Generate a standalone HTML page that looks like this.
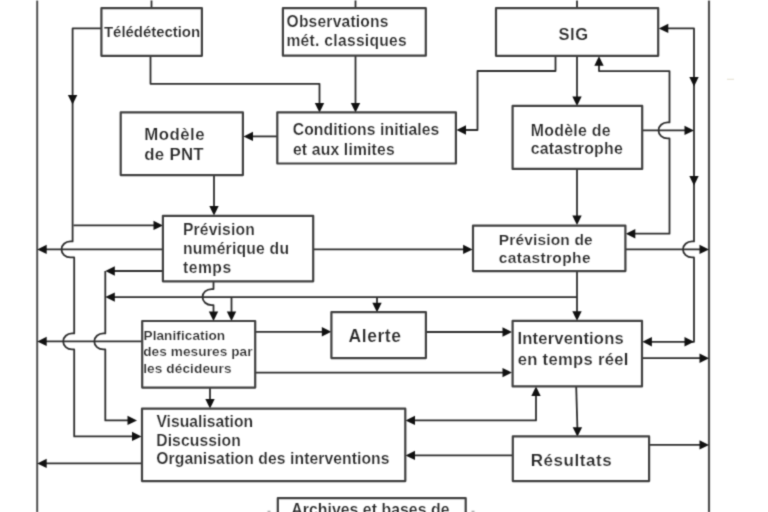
<!DOCTYPE html>
<html><head><meta charset="utf-8"><style>
html,body{margin:0;padding:0;background:#fff;}
svg{display:block;}
text{font-family:"Liberation Sans",sans-serif;font-weight:bold;fill:#2a2a2a;stroke:#fff;stroke-width:0.2;}
</style></head><body>
<svg width="768" height="512" viewBox="0 0 768 512">
<defs><filter id="bl" x="0" y="0" width="768" height="512" filterUnits="userSpaceOnUse" color-interpolation-filters="sRGB"><feConvolveMatrix order="3" kernelMatrix="0.0276 0.111 0.0276 0.111 0.4456 0.111 0.0276 0.111 0.0276" edgeMode="none"/></filter></defs>
<g filter="url(#bl)"><rect width="768" height="512" fill="#fff"/>
<g transform="translate(0,0.4)" stroke-linejoin="round"><path d="M37.2,0 V512" fill="none" stroke="#505050" stroke-width="2.0"/>
<path d="M709,0 V512" fill="none" stroke="#505050" stroke-width="2.2"/>
<path d="M151.5,0 V8" fill="none" stroke="#2e2e2e" stroke-width="1.8"/>
<path d="M355.5,0 V8" fill="none" stroke="#2e2e2e" stroke-width="1.8"/>
<path d="M577,0 V7" fill="none" stroke="#2e2e2e" stroke-width="1.8"/>
<path d="M101.5,28 H72.6 V241 H70.3 A8.8,8 0 0 0 70.3,257 H74.2 V333.0 H72 A8.8,8 0 0 0 72,349.0 H74.2 V436 H134" fill="none" stroke="#2e2e2e" stroke-width="1.8"/>
<polygon points="72.6,104.0 67.9,94.5 77.3,94.5" fill="#111"/>
<polygon points="141.5,436.0 132.0,431.3 132.0,440.7" fill="#111"/>
<path d="M150.5,55 V83.4 H319.5 V104" fill="none" stroke="#2e2e2e" stroke-width="1.8"/>
<polygon points="319.5,112.0 314.8,102.5 324.2,102.5" fill="#111"/>
<path d="M355.5,55.5 V104" fill="none" stroke="#2e2e2e" stroke-width="1.8"/>
<polygon points="355.5,112.0 350.8,102.5 360.2,102.5" fill="#111"/>
<path d="M277,136 H251" fill="none" stroke="#2e2e2e" stroke-width="1.8"/>
<polygon points="243.5,136.0 253.0,131.3 253.0,140.7" fill="#111"/>
<path d="M555.5,55.5 V70.6 H477.5 V129.6 H464" fill="none" stroke="#2e2e2e" stroke-width="1.8"/>
<polygon points="456.5,129.6 466.0,124.9 466.0,134.3" fill="#111"/>
<path d="M577,55.5 V98" fill="none" stroke="#2e2e2e" stroke-width="1.8"/>
<polygon points="577.0,105.5 572.3,96.0 581.7,96.0" fill="#111"/>
<path d="M667,28 H694 V241 H692 A9,8 0 0 0 692,257 H694 V341.4 H650" fill="none" stroke="#2e2e2e" stroke-width="1.8"/>
<polygon points="642.4,341.4 651.9,336.7 651.9,346.1" fill="#111"/>
<polygon points="658.8,28.0 668.3,23.3 668.3,32.7" fill="#111"/>
<polygon points="694.0,86.0 689.3,76.5 698.7,76.5" fill="#111"/>
<polygon points="694.0,185.0 689.3,175.5 698.7,175.5" fill="#111"/>
<polygon points="694.0,341.4 684.5,336.7 684.5,346.1" fill="#111"/>
<path d="M599,63 V70.7 H669.5 V122 H667.5 A9,8 0 0 0 667.5,138 H669.5 V233.3 H633" fill="none" stroke="#2e2e2e" stroke-width="1.8"/>
<polygon points="599.0,55.8 594.3,65.3 603.7,65.3" fill="#111"/>
<polygon points="625.8,233.3 635.3,228.6 635.3,238.0" fill="#111"/>
<path d="M642.3,130 H686" fill="none" stroke="#2e2e2e" stroke-width="1.8"/>
<polygon points="694.0,130.0 684.5,125.3 684.5,134.7" fill="#111"/>
<path d="M577,168.5 V217" fill="none" stroke="#2e2e2e" stroke-width="1.8"/>
<polygon points="577.0,224.7 572.3,215.2 581.7,215.2" fill="#111"/>
<path d="M214,175 V207" fill="none" stroke="#2e2e2e" stroke-width="1.8"/>
<polygon points="214.0,215.0 209.3,205.5 218.7,205.5" fill="#111"/>
<path d="M73.5,225 H155" fill="none" stroke="#2e2e2e" stroke-width="1.8"/>
<polygon points="163.0,225.0 153.5,220.3 153.5,229.7" fill="#111"/>
<path d="M163,249 H44" fill="none" stroke="#2e2e2e" stroke-width="1.8"/>
<polygon points="37.2,249.0 46.7,244.3 46.7,253.7" fill="#111"/>
<path d="M163,270.6 H113" fill="none" stroke="#2e2e2e" stroke-width="1.8"/>
<polygon points="105.3,270.6 114.8,265.9 114.8,275.3" fill="#111"/>
<path d="M105.3,270.6 V333.0 H103.3 A9,8 0 0 0 103.3,349.0 H105.3 V420 H130" fill="none" stroke="#2e2e2e" stroke-width="1.8"/>
<polygon points="137.0,420.0 127.5,415.3 127.5,424.7" fill="#111"/>
<path d="M313.3,249 H465" fill="none" stroke="#2e2e2e" stroke-width="1.8"/>
<polygon points="472.6,249.0 463.1,244.3 463.1,253.7" fill="#111"/>
<path d="M213.5,280.8 V288.7 H211.5 A9,8 0 0 0 211.5,304.7 H213.5 V312" fill="none" stroke="#2e2e2e" stroke-width="1.8"/>
<polygon points="213.5,320.5 208.8,311.0 218.2,311.0" fill="#111"/>
<path d="M577,296.7 H113" fill="none" stroke="#2e2e2e" stroke-width="1.8"/>
<polygon points="105.3,296.7 114.8,292.0 114.8,301.4" fill="#111"/>
<path d="M231.5,296.7 V312" fill="none" stroke="#2e2e2e" stroke-width="1.8"/>
<polygon points="231.5,320.5 226.8,311.0 236.2,311.0" fill="#111"/>
<path d="M377,296.7 V304" fill="none" stroke="#2e2e2e" stroke-width="1.8"/>
<polygon points="377.0,311.8 372.3,302.3 381.7,302.3" fill="#111"/>
<path d="M577,270.3 V312" fill="none" stroke="#2e2e2e" stroke-width="1.8"/>
<polygon points="577.0,320.3 572.3,310.8 581.7,310.8" fill="#111"/>
<path d="M625.5,249 H701" fill="none" stroke="#2e2e2e" stroke-width="1.8"/>
<polygon points="709.0,249.0 699.5,244.3 699.5,253.7" fill="#111"/>
<path d="M141.8,341.0 H44" fill="none" stroke="#2e2e2e" stroke-width="1.8"/>
<polygon points="37.2,341.0 46.7,336.3 46.7,345.7" fill="#111"/>
<path d="M254.8,331.4 H323" fill="none" stroke="#2e2e2e" stroke-width="1.8"/>
<polygon points="331.3,331.4 321.8,326.7 321.8,336.1" fill="#111"/>
<path d="M426.3,331.6 H504" fill="none" stroke="#2e2e2e" stroke-width="1.8"/>
<polygon points="512.0,331.6 502.5,326.9 502.5,336.3" fill="#111"/>
<path d="M254.8,372.2 H504" fill="none" stroke="#2e2e2e" stroke-width="1.8"/>
<polygon points="512.0,372.2 502.5,367.5 502.5,376.9" fill="#111"/>
<path d="M210,387 V400" fill="none" stroke="#2e2e2e" stroke-width="1.8"/>
<polygon points="210.0,408.2 205.3,398.7 214.7,398.7" fill="#111"/>
<path d="M642.5,357.8 H701" fill="none" stroke="#2e2e2e" stroke-width="1.8"/>
<polygon points="709.0,357.8 699.5,353.1 699.5,362.5" fill="#111"/>
<path d="M576.2,386 L577.4,428" fill="none" stroke="#2e2e2e" stroke-width="1.8"/>
<polygon points="577.4,436.4 572.7,426.9 582.1,426.9" fill="#111"/>
<path d="M536,394 V420 H413" fill="none" stroke="#2e2e2e" stroke-width="1.8"/>
<polygon points="536.0,386.0 531.3,395.5 540.7,395.5" fill="#111"/>
<polygon points="405.5,420.0 415.0,415.3 415.0,424.7" fill="#111"/>
<path d="M512,455 H413" fill="none" stroke="#2e2e2e" stroke-width="1.8"/>
<polygon points="405.5,455.0 415.0,450.3 415.0,459.7" fill="#111"/>
<path d="M649.6,444.5 H701" fill="none" stroke="#2e2e2e" stroke-width="1.8"/>
<polygon points="709.0,444.5 699.5,439.8 699.5,449.2" fill="#111"/>
<path d="M142,463 H44" fill="none" stroke="#2e2e2e" stroke-width="1.8"/>
<polygon points="37.2,463.0 46.7,458.3 46.7,467.7" fill="#111"/>
<rect x="101.4" y="7.8" width="100.5" height="47.6" fill="none" stroke="#404040" stroke-width="2.2"/>
<rect x="282.9" y="7.8" width="142.9" height="47.5" fill="none" stroke="#404040" stroke-width="2.2"/>
<rect x="496" y="7.8" width="162.2" height="47.6" fill="none" stroke="#404040" stroke-width="2.2"/>
<rect x="120.7" y="112" width="122.2" height="62.7" fill="none" stroke="#404040" stroke-width="2.2"/>
<rect x="277.3" y="111.9" width="178.6" height="51.2" fill="none" stroke="#404040" stroke-width="2.2"/>
<rect x="512.6" y="105.5" width="129.6" height="63.0" fill="none" stroke="#404040" stroke-width="2.2"/>
<rect x="162.9" y="215.4" width="150.3" height="65.5" fill="none" stroke="#404040" stroke-width="2.2"/>
<rect x="473" y="225.2" width="152.4" height="45.5" fill="none" stroke="#404040" stroke-width="2.2"/>
<rect x="142.2" y="320.6" width="113.0" height="66.6" fill="none" stroke="#404040" stroke-width="2.2"/>
<rect x="331.4" y="311.8" width="94.5" height="45.9" fill="none" stroke="#404040" stroke-width="2.2"/>
<rect x="512.6" y="320.5" width="129.4" height="65.5" fill="none" stroke="#404040" stroke-width="2.2"/>
<rect x="142" y="408.3" width="263.3" height="72.4" fill="none" stroke="#404040" stroke-width="2.2"/>
<rect x="512.8" y="436" width="136.3" height="44.7" fill="none" stroke="#404040" stroke-width="2.2"/>
<rect x="277.8" y="497.8" width="187.9" height="32.2" fill="none" stroke="#404040" stroke-width="2.2"/>
<rect x="267.5" y="510.3" width="3" height="2" fill="#aaa"/>
<rect x="471.5" y="510.3" width="3" height="2" fill="#aaa"/>
<rect x="727" y="78.3" width="7" height="1.2" fill="#e8e4d6"/></g>
<text x="103.99" y="37" font-size="15.0" textLength="96.07" lengthAdjust="spacing">Télédétection</text>
<text x="286.55" y="27.4" font-size="15.6" textLength="101.89" lengthAdjust="spacing">Observations</text>
<text x="286.44" y="46.0" font-size="15.6" textLength="120.34" lengthAdjust="spacing">mét. classiques</text>
<text x="558.44" y="40.0" font-size="16.5" textLength="29.63" lengthAdjust="spacing">SIG</text>
<text x="144.27" y="140" font-size="16.8" textLength="60.32" lengthAdjust="spacing">Modèle</text>
<text x="144.26" y="160.1" font-size="16.8" textLength="59.31" lengthAdjust="spacing">de PNT</text>
<text x="292.74" y="135.4" font-size="15.7" textLength="146.51" lengthAdjust="spacing">Conditions initiales</text>
<text x="292.89" y="154.6" font-size="15.7" textLength="101.76" lengthAdjust="spacing">et aux limites</text>
<text x="530.83" y="135.6" font-size="15.9" textLength="79.74" lengthAdjust="spacing">Modèle de</text>
<text x="530.64" y="153.7" font-size="15.9" textLength="92.11" lengthAdjust="spacing">catastrophe</text>
<text x="182.97" y="235.1" font-size="15.7" textLength="71.80" lengthAdjust="spacing">Prévision</text>
<text x="182.91" y="253.5" font-size="15.7" textLength="106.10" lengthAdjust="spacing">numérique du</text>
<text x="183.06" y="272.7" font-size="15.7" textLength="48.10" lengthAdjust="spacing">temps</text>
<text x="498.76" y="245.3" font-size="15.5" textLength="93.90" lengthAdjust="spacing">Prévision de</text>
<text x="498.84" y="263.1" font-size="15.5" textLength="91.67" lengthAdjust="spacing">catastrophe</text>
<text x="143.51" y="339.8" font-size="13.6" textLength="81.66" lengthAdjust="spacing">Planification</text>
<text x="143.23" y="356" font-size="13.6" textLength="109.27" lengthAdjust="spacing">des mesures par</text>
<text x="143.19" y="372.5" font-size="13.6" textLength="88.25" lengthAdjust="spacing">les décideurs</text>
<text x="348.49" y="341.6" font-size="17.5" textLength="52.46" lengthAdjust="spacing">Alerte</text>
<text x="517.52" y="344.0" font-size="16.6" textLength="106.18" lengthAdjust="spacing">Interventions</text>
<text x="517.65" y="364.8" font-size="16.6" textLength="110.80" lengthAdjust="spacing">en temps réel</text>
<text x="156.40" y="426.6" font-size="15.7" textLength="96.80" lengthAdjust="spacing">Visualisation</text>
<text x="156.21" y="445.6" font-size="15.7" textLength="84.64" lengthAdjust="spacing">Discussion</text>
<text x="156.27" y="464.4" font-size="15.7" textLength="233.24" lengthAdjust="spacing">Organisation des interventions</text>
<text x="530.71" y="466.2" font-size="17.0" textLength="81.11" lengthAdjust="spacing">Résultats</text>
<text x="291.25" y="514.5" font-size="15.8" textLength="158.19" lengthAdjust="spacing">Archives et bases de</text>
</g></svg>
</body></html>
